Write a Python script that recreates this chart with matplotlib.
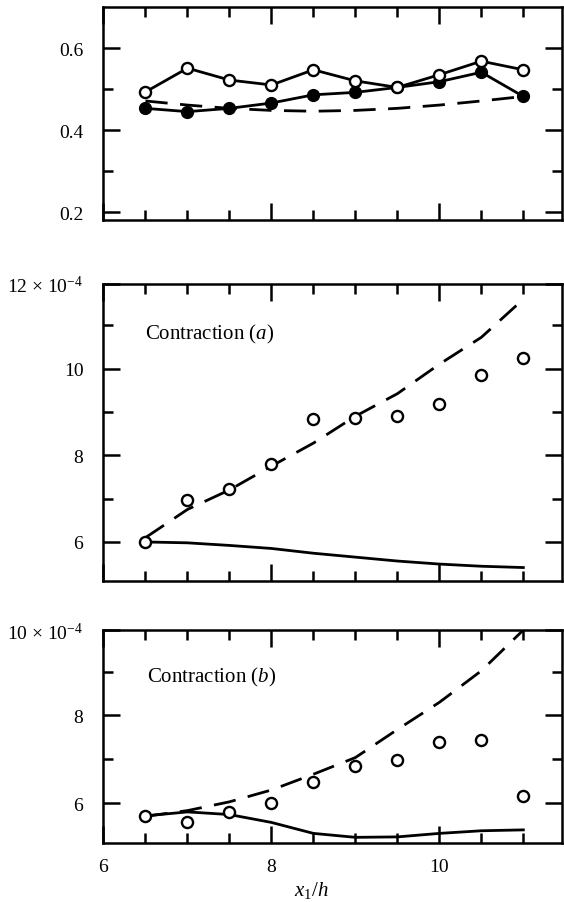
import matplotlib
matplotlib.use('Agg')
import matplotlib.pyplot as plt
from matplotlib.ticker import FixedLocator

plt.rcParams['font.family'] = ['Liberation Serif', 'DejaVu Serif']
plt.rcParams['mathtext.fontset'] = 'custom'
plt.rcParams['mathtext.rm'] = 'Liberation Serif'
plt.rcParams['mathtext.it'] = 'Liberation Serif:italic'

# streamwise stations x1/h
x = [6.5, 7.0, 7.5, 8.0, 8.5, 9.0, 9.5, 10.0, 10.5, 11.0]

# top panel
top_open = [0.493, 0.551, 0.522, 0.510, 0.547, 0.520, 0.504, 0.535, 0.568, 0.547]
top_filled = [0.453, 0.445, 0.453, 0.466, 0.486, 0.492, 0.504, 0.518, 0.541, 0.482]
top_dashed = [0.471, 0.461, 0.453, 0.448, 0.446, 0.448, 0.453, 0.461, 0.471, 0.482]

# contraction (a), units of 1e-4
a_meas = [6.00, 6.96, 7.21, 7.80, 8.84, 8.87, 8.90, 9.18, 9.85, 10.25]
a_dashed = [6.10, 6.75, 7.20, 7.75, 8.28, 8.90, 9.42, 10.10, 10.72, 11.60]
a_solid = [6.00, 5.98, 5.92, 5.85, 5.74, 5.65, 5.56, 5.49, 5.44, 5.41]

# contraction (b), units of 1e-4
b_meas = [5.71, 5.58, 5.80, 6.00, 6.49, 6.85, 6.98, 7.39, 7.44, 6.17]
b_dashed = [5.70, 5.83, 6.03, 6.30, 6.66, 7.04, 7.68, 8.30, 9.02, 9.95]
b_solid = [5.71, 5.80, 5.74, 5.56, 5.31, 5.22, 5.23, 5.31, 5.37, 5.39]

xticks_major = [6, 8, 10]
xticks_minor = [6.5, 7, 7.5, 8.5, 9, 9.5, 10.5, 11]

fig = plt.figure(figsize=(5.64, 9.03), dpi=100)
ax0 = fig.add_axes([0.1835, 0.7558, 0.8129, 0.2353])
ax1 = fig.add_axes([0.1835, 0.3555, 0.8129, 0.3289])
ax2 = fig.add_axes([0.1835, 0.0653, 0.8129, 0.2359])

dash = (8, 4.5)
lw = 2.0


def style(ax, ylim, yticks, ylabels, yminor):
    ax.set_xlim(6, 11.46)
    ax.set_ylim(*ylim)
    ax.xaxis.set_major_locator(FixedLocator(xticks_major))
    ax.xaxis.set_minor_locator(FixedLocator(xticks_minor))
    ax.set_yticks(yticks)
    ax.set_yticklabels(ylabels)
    ax.yaxis.set_minor_locator(FixedLocator(yminor))
    ax.tick_params(which='both', direction='in', top=True, right=True,
                   width=1.8, labelsize=14, pad=14.5)
    ax.tick_params(axis='x', pad=11)
    ax.tick_params(which='major', length=12.5)
    ax.tick_params(which='minor', length=7.5)
    for s in ax.spines.values():
        s.set_linewidth(1.8)


# top panel
ax0.plot(x, top_dashed, color='black', lw=lw, dashes=dash, zorder=2)
ax0.plot(x, top_filled, color='black', lw=lw, marker='o', ms=8.5,
         mfc='black', mec='black', zorder=3)
ax0.plot(x, top_open, color='black', lw=lw, marker='o', ms=8,
         mfc='white', mec='black', mew=1.7, zorder=4)
style(ax0, (0.182, 0.70), [0.2, 0.4, 0.6], ['0.2', '0.4', '0.6'], [0.3, 0.5])
ax0.tick_params(axis='x', labelbottom=False)

# contraction (a)
ax1.plot(x, a_dashed, color='black', lw=lw, dashes=dash)
ax1.plot(x, a_solid, color='black', lw=lw)
ax1.plot(x, a_meas, ls='none', marker='o', ms=8, mfc='white',
         mec='black', mew=1.7, zorder=4)
style(ax1, (5.1, 11.95), [6, 8, 10, 11.95],
      ['6', '8', '10', '12 × 10$^{-4}$'], [7, 9, 11])
ax1.tick_params(axis='x', labelbottom=False)
ax1.text(6.49, 10.8, 'Contraction ($\\it{a}$)', fontsize=15, va='center')

# contraction (b)
ax2.plot(x, b_dashed, color='black', lw=lw, dashes=dash)
ax2.plot(x, b_solid, color='black', lw=lw)
ax2.plot(x, b_meas, ls='none', marker='o', ms=8, mfc='white',
         mec='black', mew=1.7, zorder=4)
style(ax2, (5.09, 9.95), [6, 8, 9.95],
      ['6', '8', '10 × 10$^{-4}$'], [7, 9])
ax2.text(6.52, 8.9, 'Contraction ($\\it{b}$)', fontsize=15, va='center')
ax2.set_xlabel('$x_1/h$', fontsize=15, va='center')
ax2.xaxis.set_label_coords(0.454, -0.216)

fig.savefig('out.png', dpi=100)
